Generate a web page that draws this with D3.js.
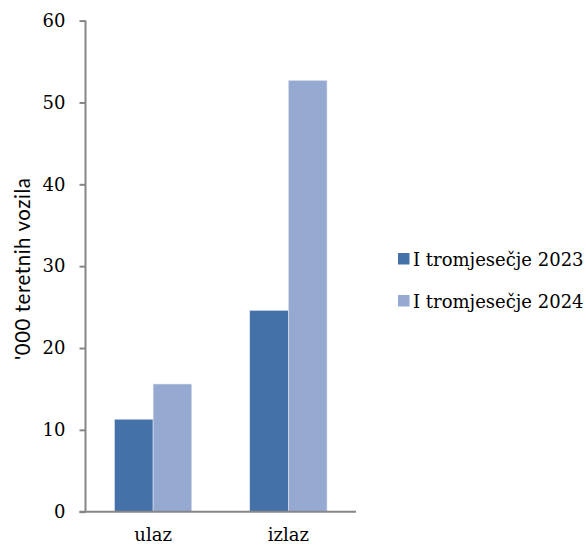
<!DOCTYPE html>
<html><head><meta charset="utf-8">
<script src="https://cdn.jsdelivr.net/npm/d3@7"></script>
<style>body{margin:0;background:#fff}</style>
</head><body>
<svg id="c" width="586" height="546"></svg>
<script>
const categories = ["ulaz", "izlaz"];
const seriesNames = ["I tromjesečje 2023", "I tromjesečje 2024"];
const values2023 = [11.3, 24.6];
const values2024 = [15.6, 52.7];
const yTicks = [0, 10, 20, 30, 40, 50, 60];
const colors = ["#4472a8", "#95a9d1"];

const svg = d3.select("#c");
const m = {l: 85.5, r: 356, t: 20.6, b: 511.7};
const x = d3.scaleBand().domain(categories).range([m.l, m.r]).paddingInner(0).paddingOuter(0);
const y = d3.scaleLinear().domain([0, 60]).range([m.b, m.t]);
const inner = d3.scaleBand().domain([0,1]).range([0, x.bandwidth()]).paddingInner(0).paddingOuter(0.75);

const series = [values2023, values2024];
series.forEach((vals, si) => {
  svg.append("g").selectAll("rect").data(categories).join("rect")
    .attr("x", (d) => x(d) + inner(si))
    .attr("width", inner.bandwidth())
    .attr("y", (d, i) => y(vals[i]))
    .attr("height", (d, i) => y(0) - y(vals[i]))
    .attr("fill", colors[si])
    .attr("stroke", "#dfe6f1").attr("stroke-width", 0.6);
});

const serif = "'DejaVu Serif', serif";
const ya = svg.append("g").attr("transform", `translate(${m.l},0)`)
  .call(d3.axisLeft(y).tickValues(yTicks).tickSize(6).tickPadding(14));
ya.select(".domain").attr("stroke", "#868686").attr("stroke-width", 2).attr("d", `M0,${m.b}V${m.t}`);
ya.selectAll(".tick line").attr("stroke", "#868686").attr("stroke-width", 2);
ya.selectAll(".tick text").attr("font-family", serif).attr("font-size", 18).attr("fill", "#000");

const xa = svg.append("g").attr("transform", `translate(0,${m.b})`)
  .call(d3.axisBottom(x).tickSize(0));
xa.select(".domain").attr("stroke", "#868686").attr("stroke-width", 2).attr("d", `M${m.l-6},0H${m.r}`);
xa.selectAll(".tick text").attr("font-family", serif).attr("font-size", 18).attr("fill", "#000")
  .attr("y", 29.5).attr("dy", 0);

svg.append("text").attr("transform", "translate(30,269) rotate(-90)")
  .attr("text-anchor", "middle").attr("font-family", "Lato, 'Open Sans', sans-serif")
  .attr("font-size", 20.5).attr("textLength", 182).attr("lengthAdjust", "spacing")
  .text("'000 teretnih vozila");

const lg = svg.append("g");
seriesNames.forEach((n, i) => {
  const yy = 253 + i * 42;
  lg.append("rect").attr("x", 398).attr("y", yy).attr("width", 11.5).attr("height", 11.5).attr("fill", colors[i]);
  lg.append("text").attr("x", 413).attr("y", yy + 13).attr("font-family", serif)
    .attr("font-size", 18).text(n);
});
</script>
</body></html>
